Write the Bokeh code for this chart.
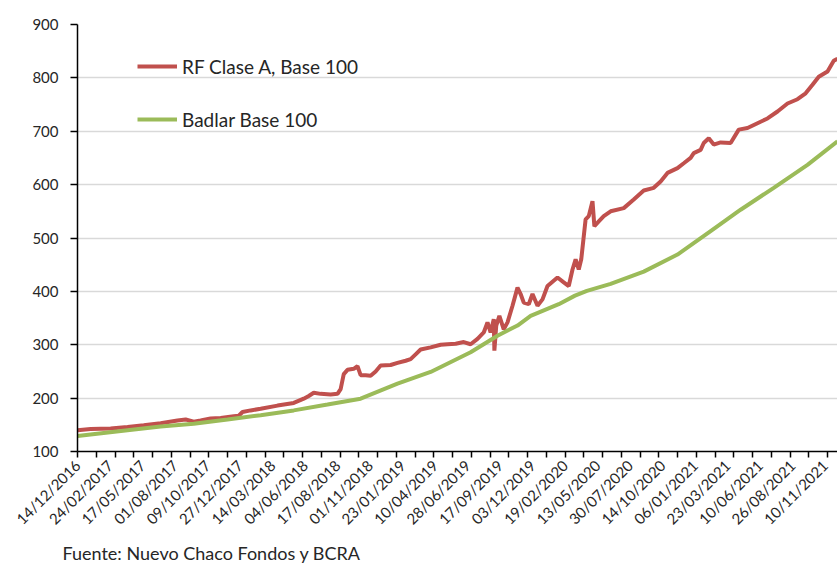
from bokeh.plotting import figure
from bokeh.models import FixedTicker, Legend, LegendItem, Title, Range1d
from bokeh.embed import file_html
from bokeh.resources import INLINE
import math

# ---- data (x = trading-day index) ----
tick_labels = ["14/12/2016", "24/02/2017", "17/05/2017", "01/08/2017", "09/10/2017",
               "27/12/2017", "14/03/2018", "04/06/2018", "17/08/2018", "01/11/2018",
               "23/01/2019", "10/04/2019", "28/06/2019", "17/09/2019", "03/12/2019",
               "19/02/2020", "13/05/2020", "30/07/2020", "14/10/2020", "06/01/2021",
               "23/03/2021", "10/06/2021", "26/08/2021", "10/11/2021"]
label_step = 52
tick_step = 30
last_index = 1216

rf_idx = [0, 21, 53, 80, 106, 133, 160, 173, 186, 197, 213, 229, 250, 258, 264, 277,
          293, 320, 346, 362, 370, 378, 389, 405, 416, 421, 426, 432, 442, 448, 453,
          461, 469, 477, 485, 501, 512, 525, 533, 541, 549, 565, 581, 592, 605, 618,
          629, 640, 650, 656, 661, 666, 667, 670, 675, 682, 688, 696, 704, 709, 714,
          722, 728, 736, 744, 752, 768, 778, 786, 792, 797, 802, 806, 813, 818, 824,
          827, 834, 842, 853, 874, 890, 906, 922, 933, 944, 960, 970, 981, 986, 997,
          1002, 1010, 1018, 1029, 1045, 1058, 1072, 1088, 1104, 1120, 1136, 1152,
          1165, 1176, 1186, 1200, 1210, 1216]
rf_val = [140, 142, 143, 146, 149, 153, 158, 160, 156, 158, 162, 163, 166, 167, 174, 177,
          180, 186, 191, 199, 204, 210, 208, 207, 208, 217, 245, 253, 255, 260, 243,
          243, 242, 250, 261, 262, 266, 270, 273, 282, 291, 295, 300, 301, 302, 305,
          301, 311, 323, 342, 323, 348, 289, 336, 354, 329, 342, 373, 407, 395, 379,
          376, 395, 373, 385, 410, 426, 417, 410, 441, 460, 441, 460, 535, 541, 569,
          522, 531, 541, 550, 556, 572, 589, 594, 606, 622, 631, 640, 650, 659, 665,
          678, 687, 675, 679, 678, 703, 706, 715, 724, 737, 752, 760,
          771, 787, 802, 812, 832, 836]

badlar_idx = [0, 80, 133, 186, 240, 293, 346, 400, 453, 512, 565, 629, 672, 704, 725,
              770, 796, 815, 853, 906, 960, 1013, 1061, 1114, 1168, 1216]
badlar_val = [129, 140, 147, 152, 160, 168, 177, 188, 199, 227, 249, 286, 317, 336, 354,
              376, 392, 401, 414, 437, 469, 513, 553, 594, 637, 681]

RED = "#C0504D"
GREEN = "#9BBB59"
TXT = "#262626"
FONT = "Lato"

p = figure(width=837, height=565, output_backend="svg", toolbar_location=None,
           x_range=Range1d(0, last_index), y_range=Range1d(100, 900),
           min_border_left=77, min_border_right=0, min_border_top=24,
           min_border_bottom=112)
p.outline_line_color = None
p.background_fill_color = "white"
p.border_fill_color = "white"

r_rf = p.line(rf_idx, rf_val, line_color=RED, line_width=4)
r_bd = p.line(badlar_idx, badlar_val, line_color=GREEN, line_width=4)

# grid
p.xgrid.grid_line_color = None
p.ygrid.grid_line_color = "#D9D9D9"
p.ygrid.grid_line_width = 1.5

# y axis
p.yaxis.ticker = FixedTicker(ticks=list(range(100, 1000, 100)))
p.yaxis.axis_line_color = "black"
p.yaxis.axis_line_width = 1.5
p.yaxis.major_tick_line_color = "black"
p.yaxis.major_tick_line_width = 1.5
p.yaxis.major_tick_out = 7
p.yaxis.major_tick_in = 0
p.yaxis.minor_tick_line_color = None
p.yaxis.major_label_standoff = 12
p.yaxis.major_label_text_font = FONT
p.yaxis.major_label_text_font_size = "15px"
p.yaxis.major_label_text_color = TXT

# x axis
label_pos = [i * label_step for i in range(len(tick_labels))]
p.xaxis.ticker = FixedTicker(ticks=label_pos,
                             minor_ticks=list(range(0, last_index + 1, tick_step)))
p.xaxis.major_label_overrides = {pos: lab for pos, lab in zip(label_pos, tick_labels)}
p.xaxis.major_label_orientation = math.pi / 4
p.xaxis.axis_line_color = "black"
p.xaxis.axis_line_width = 1.5
p.xaxis.major_tick_line_color = None
p.xaxis.minor_tick_line_color = "black"
p.xaxis.minor_tick_line_width = 1.5
p.xaxis.minor_tick_out = 6
p.xaxis.minor_tick_in = 0
p.xaxis.major_tick_out = 6
p.xaxis.major_label_standoff = 5
p.xaxis.major_label_text_font = FONT
p.xaxis.major_label_text_font_size = "15px"
p.xaxis.major_label_text_color = TXT

# legend
legend = Legend(items=[LegendItem(label="RF Clase A, Base 100", renderers=[r_rf]),
                       LegendItem(label="Badlar Base 100", renderers=[r_bd])],
                location=(60, 320), orientation="vertical",
                border_line_color=None, background_fill_alpha=0,
                padding=0, margin=0, spacing=29,
                glyph_width=40, glyph_height=24, label_height=24,
                label_standoff=5, label_text_font=FONT,
                label_text_font_size="19px", label_text_color=TXT)
p.add_layout(legend)

# source note
src = Title(text="Fuente:  Nuevo  Chaco Fondos y BCRA", align="left",
            text_font=FONT, text_font_size="18px", text_font_style="normal",
            text_color=TXT, offset=-15, standoff=4)
p.add_layout(src, "below")

open("out.html", "w").write(file_html(p, INLINE))
